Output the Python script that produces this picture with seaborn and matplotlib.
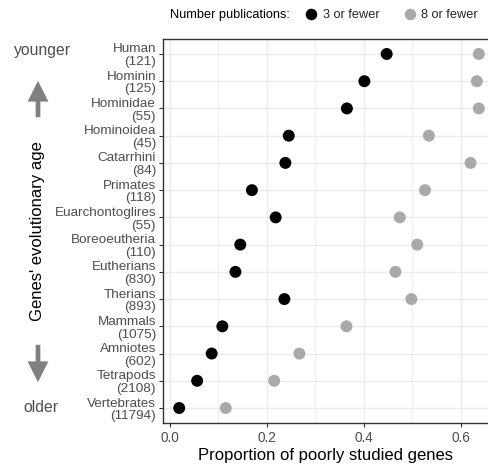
import numpy as np
import pandas as pd
import seaborn as sns
import matplotlib
matplotlib.use('Agg')
from matplotlib import pyplot as plt
from matplotlib.lines import Line2D
from matplotlib.patches import FancyArrowPatch

# clades from youngest to oldest, with number of genes
clades = ['Human', 'Hominin', 'Hominidae', 'Hominoidea', 'Catarrhini', 'Primates',
          'Euarchontoglires', 'Boreoeutheria', 'Eutherians', 'Therians', 'Mammals',
          'Amniotes', 'Tetrapods', 'Vertebrates']
n_genes = [121, 125, 55, 45, 84, 118, 55, 110, 830, 893, 1075, 602, 2108, 11794]

# proportion of poorly studied genes
prop_3_or_fewer = [0.447, 0.401, 0.365, 0.245, 0.238, 0.169, 0.218, 0.145,
                   0.135, 0.236, 0.108, 0.086, 0.056, 0.019]
prop_8_or_fewer = [0.637, 0.633, 0.637, 0.534, 0.620, 0.526, 0.474, 0.510,
                   0.465, 0.498, 0.364, 0.267, 0.215, 0.115]
groups = ['3 or fewer', '8 or fewer']
colors = ['#000000', '#A9A9A9']

labels = [f'{c}\n({n})' for c, n in zip(clades, n_genes)]
df = pd.DataFrame({
    'label': labels * 2,
    'prop': prop_3_or_fewer + prop_8_or_fewer,
    'pubs': [groups[0]] * len(labels) + [groups[1]] * len(labels),
})

sns.set_style('whitegrid')
plt.rcParams['font.family'] = ['Liberation Sans', 'DejaVu Sans']

fig = plt.figure(figsize=(4.88, 4.69), dpi=100)
ax = fig.add_axes([163 / 488, 1 - 423 / 469, (488 - 163) / 488, (423 - 39) / 469])

sns.stripplot(data=df, x='prop', y='label', hue='pubs', order=labels, hue_order=groups,
              palette=colors, jitter=False, size=8.6, linewidth=0, ax=ax,
              legend=False, zorder=3)

ax.set_xlim(-0.0144, 0.656)
ax.set_ylim(len(labels) - 0.45, -0.55)
ax.set_xticks([0.0, 0.2, 0.4, 0.6])
ax.set_xticklabels(['0.0', '0.2', '0.4', '0.6'])
ax.set_xticks([0.1, 0.3, 0.5], minor=True)
ax.grid(True, which='major', color='#EBEBEB', linewidth=1.0)
ax.grid(True, which='minor', axis='x', color='#EBEBEB', linewidth=0.6)
ax.set_axisbelow(True)

for side in ['left', 'top', 'bottom']:
    ax.spines[side].set_color('#333333')
    ax.spines[side].set_linewidth(1.0)
ax.spines['right'].set_visible(False)

ax.tick_params(axis='both', which='major', length=3, width=0.8, color='#333333',
               labelcolor='#4D4D4D', labelsize=9.7, pad=2, left=True, bottom=True)
ax.tick_params(axis='x', which='minor', length=0)
ax.tick_params(axis='x', labelsize=9.8, pad=3)
for t in ax.get_yticklabels():
    t.set_horizontalalignment('right')
    t.set_linespacing(1.08)

ax.set_xlabel('Proportion of poorly studied genes', fontsize=12, color='black', labelpad=2)
ax.set_ylabel('')

# evolutionary age annotation on the left
fig.text(43 / 488, 1 - 50 / 469, 'younger', ha='center', va='center', fontsize=11.3, color='#4D4D4D')
fig.text(41 / 488, 1 - 407 / 469, 'older', ha='center', va='center', fontsize=11.3, color='#4D4D4D')
fig.text(38 / 488, 1 - 231 / 469, "Genes' evolutionary age", ha='center', va='center',
         rotation=90, fontsize=12, color='black')
arrow_style = 'simple,head_length=0.75,head_width=0.75,tail_width=0.17'
fig.patches.append(FancyArrowPatch(
    (38 / 488, 1 - 120 / 469), (38 / 488, 1 - 78 / 469), transform=fig.transFigure,
    arrowstyle=arrow_style, mutation_scale=20, color='#808080', linewidth=0))
fig.patches.append(FancyArrowPatch(
    (38 / 488, 1 - 342 / 469), (38 / 488, 1 - 385 / 469), transform=fig.transFigure,
    arrowstyle=arrow_style, mutation_scale=20, color='#808080', linewidth=0))

# legend on top
fig.text(170 / 488, 1 - 15 / 469, 'Number publications:', ha='left', va='center',
         fontsize=9.2, color='black')
handles = [Line2D([], [], marker='o', linestyle='', markersize=8.3, color=c, markeredgewidth=0)
           for c in colors]
fig.legend(handles, groups, loc='center left', bbox_to_anchor=(306 / 488, 1 - 15 / 469),
           ncol=2, frameon=False, fontsize=9.2, handletextpad=0.5, columnspacing=2.0,
           handlelength=0.8, borderaxespad=0, borderpad=0)

fig.savefig('out.png', dpi=100)
